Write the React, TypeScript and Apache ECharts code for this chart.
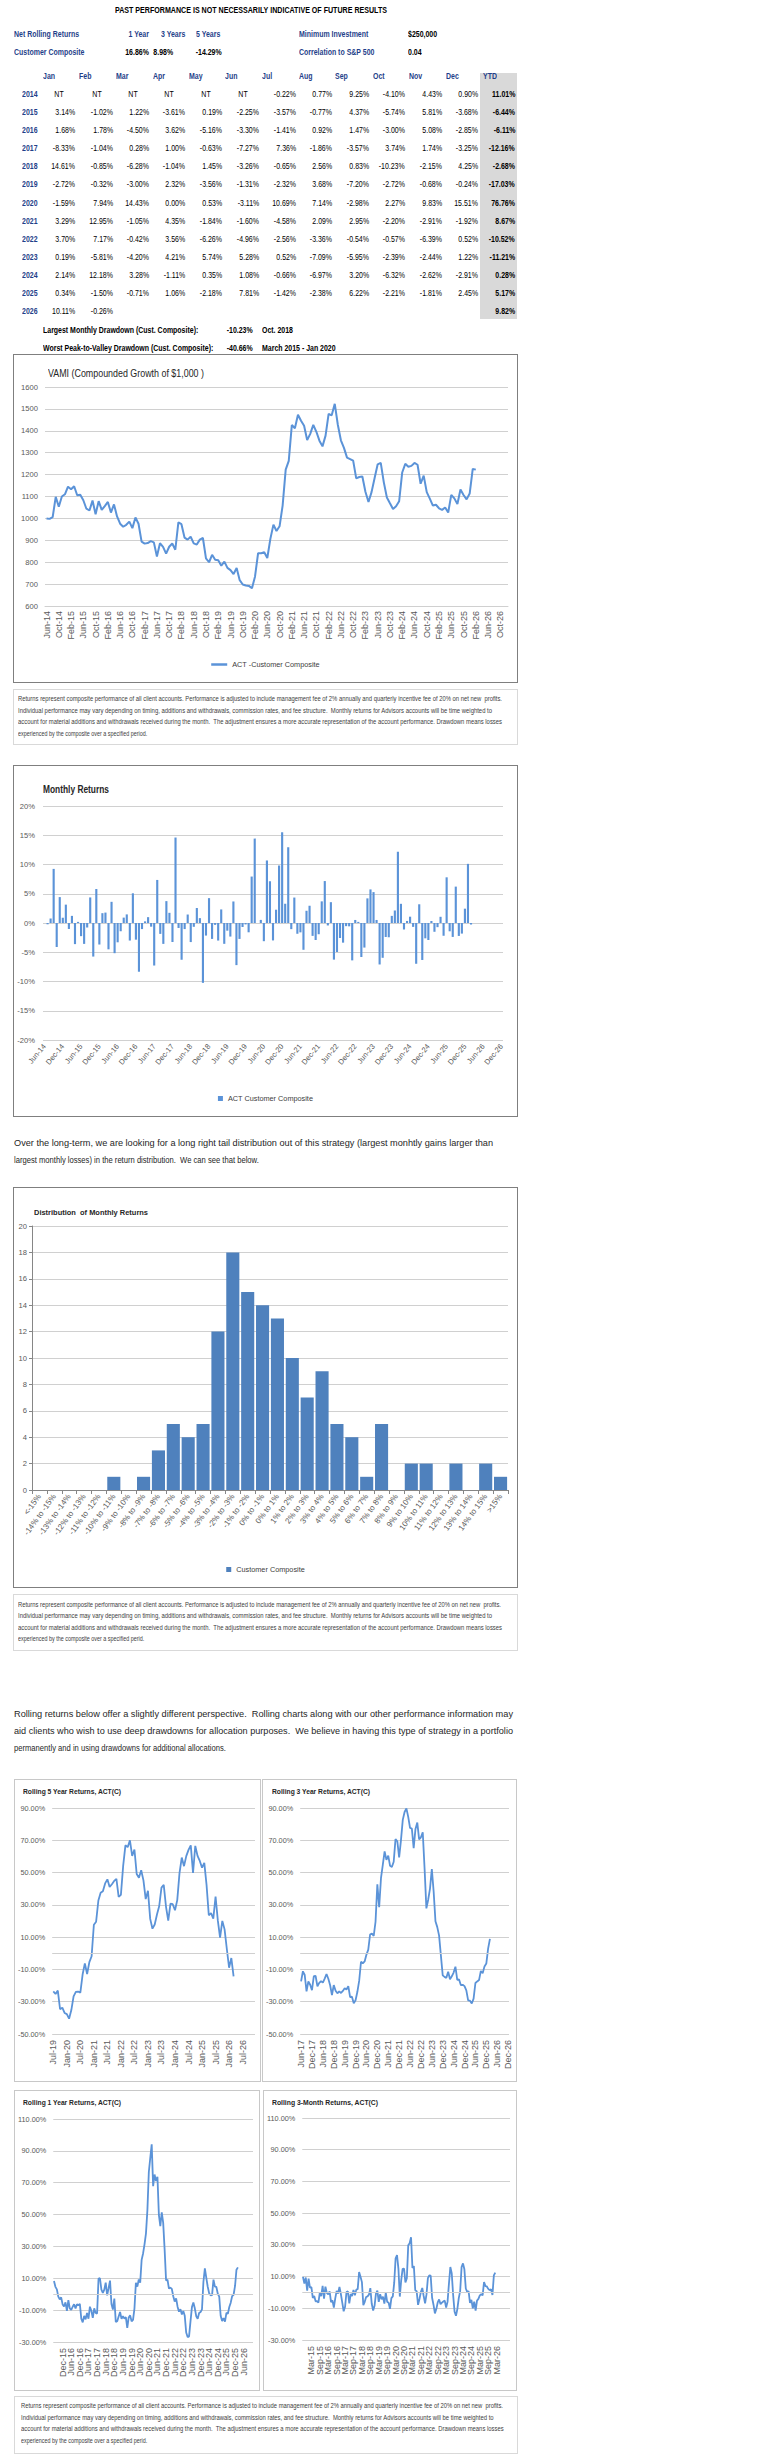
import React, { useEffect, useLayoutEffect, useRef } from "react";
import * as echarts from "echarts";

// ---------------- DATA ----------------
const MONTHS = ["Jan", "Feb", "Mar", "Apr", "May", "Jun", "Jul", "Aug", "Sep", "Oct", "Nov", "Dec"];
const YEARS = [2014, 2015, 2016, 2017, 2018, 2019, 2020, 2021, 2022, 2023, 2024, 2025, 2026];

const R2014: any[] = ["NT", "NT", "NT", "NT", "NT", "NT", -0.22, 0.77, 9.25, -4.1, 4.43, 0.9];
const R2015: any[] = [3.14, -1.02, 1.22, -3.61, 0.19, -2.25, -3.57, -0.77, 4.37, -5.74, 5.81, -3.68];
const R2016: any[] = [1.68, 1.78, -4.5, 3.62, -5.16, -3.3, -1.41, 0.92, 1.47, -3.0, 5.08, -2.85];
const R2017: any[] = [-8.33, -1.04, 0.28, 1.0, -0.63, -7.27, 7.36, -1.86, -3.57, 3.74, 1.74, -3.25];
const R2018: any[] = [14.61, -0.85, -6.28, -1.04, 1.45, -3.26, -0.65, 2.56, 0.83, -10.23, -2.15, 4.25];
const R2019: any[] = [-2.72, -0.32, -3.0, 2.32, -3.56, -1.31, -2.32, 3.68, -7.2, -2.72, -0.68, -0.24];
const R2020: any[] = [-1.59, 7.94, 14.43, 0.0, 0.53, -3.11, 10.69, 7.14, -2.98, 2.27, 9.83, 15.51];
const R2021: any[] = [3.29, 12.95, -1.05, 4.35, -1.84, -1.6, -4.58, 2.09, 2.95, -2.2, -2.91, -1.92];
const R2022: any[] = [3.7, 7.17, -0.42, 3.56, -6.26, -4.96, -2.56, -3.36, -0.54, -0.57, -6.39, 0.52];
const R2023: any[] = [0.19, -5.81, -4.2, 4.21, 5.74, 5.28, 0.52, -7.09, -5.95, -2.39, -2.44, 1.22];
const R2024: any[] = [2.14, 12.18, 3.28, -1.11, 0.35, 1.08, -0.66, -6.97, 3.2, -6.32, -2.62, -2.91];
const R2025: any[] = [0.34, -1.5, -0.71, 1.06, -2.18, 7.81, -1.42, -2.38, 6.22, -2.21, -1.81, 2.45];
const R2026: any[] = [10.11, -0.26, null, null, null, null, null, null, null, null, null, null];
const YTD = [11.01, -6.44, -6.11, -12.16, -2.68, -17.03, 76.76, 8.67, -10.52, -11.21, 0.28, 5.17, 9.82];

const HIST_BINS = [
  "<-15%", "-14% to -15%", "-13% to -14%", "-12% to -13%", "-11% to -12%", "-10% to -11%",
  "-9% to -10%", "-8% to -9%", "-7% to -8%", "-6% to -7%", "-5% to -6%", "-4% to -5%",
  "-3% to -4%", "-2% to -3%", "-1% to -2%", "0% to -1%", "0% to 1%", "1% to 2%", "2% to 3%",
  "3% to 4%", "4% to 5%", "5% to 6%", "6% to 7%", "7% to 8%", "8% to 9%", "9% to 10%",
  "10% to 11%", "11% to 12%", "12% to 13%", "13% to 14%", "14% to 15%", ">15%",
];
const HIST_COUNTS = [0, 0, 0, 0, 0, 1, 0, 1, 3, 5, 4, 5, 12, 18, 15, 14, 13, 10, 7, 9, 5, 4, 1, 5, 0, 2, 2, 0, 2, 0, 2, 1];

const ROWS = [R2014, R2015, R2016, R2017, R2018, R2019, R2020, R2021, R2022, R2023, R2024, R2025, R2026];
// monthly returns Jul-14 .. Feb-26 in order
const RETURNS: number[] = ROWS.flat().filter((v) => typeof v === "number") as number[];

// VAMI: growth of $1,000 compounded from the monthly returns above (starts Jun-14)
const VAMI: number[] = RETURNS.reduce((acc: number[], r) => { acc.push(acc[acc.length - 1] * (1 + r / 100)); return acc; }, [1000]);

// Rolling n-month compounded return (in %) ending at each month
function rolling(n: number): number[] {
  const out: number[] = [];
  for (let e = n - 1; e < RETURNS.length; e++) {
    let p = 1;
    for (let i = e - n + 1; i <= e; i++) p *= 1 + RETURNS[i] / 100;
    out.push(+((p - 1) * 100).toFixed(2));
  }
  return out;
}

function monthLabels(y0: number, m0: number, n: number): string[] {
  const out: string[] = [];
  for (let i = 0; i < n; i++) {
    const t = m0 + i;
    const y = y0 + Math.floor(t / 12);
    out.push(MONTHS[t % 12] + "-" + String(y % 100).padStart(2, "0"));
  }
  return out;
}

const MONTH_CATS = monthLabels(2014, 5, 151); // Jun-14 .. Dec-26
const ROLL5_CATS = monthLabels(2019, 6, 90); // Jul-19 .. Dec-26
const ROLL3_CATS = monthLabels(2017, 5, 115); // Jun-17 .. Dec-26
const ROLL1_CATS = monthLabels(2015, 5, 139); // Jun-15 .. Dec-26
const ROLL3M_CATS = monthLabels(2014, 8, 148); // Sep-14 .. Dec-26

// ---------------- STYLE ----------------
const FONT = "'Liberation Sans', Arial, sans-serif";
const SX = 0.82; // horizontal squeeze of the reference's text
const NAVY = "#1F3F8A";
const BLUE = "#5B93D8";
const GRID_LINE = "#d0d0d0";
const axisTxt = { fontFamily: FONT, fontSize: 7.3, color: "#595959" };
const legendTxt = { fontFamily: FONT, fontSize: 7.3, color: "#404040" };

const DISC = [
  "Returns represent composite performance of all client accounts. Performance is adjusted to include management fee of 2% annually and quarterly incentive fee of 20% on net new  profits.",
  "Individual performance may vary depending on timing, additions and withdrawals, commission rates, and fee structure.  Monthly returns for Advisors accounts will be time weighted to",
  "account for material additions and withdrawals received during the month.  The adjustment ensures a more accurate representation of the account performance. Drawdown means losses",
];

// ---------------- COMPONENTS ----------------
function EChart({ option, w, h }: { option: any; w: number; h: number }) {
  const ref = useRef<HTMLDivElement>(null);
  useEffect(() => {
    const c = echarts.init(ref.current as HTMLDivElement, null, { renderer: "svg", width: w, height: h });
    c.setOption(option);
    return () => c.dispose();
  }, []);
  return <div ref={ref} style={{ width: w, height: h }} />;
}

function Box({ left, top, w, h, border, option }: any) {
  return (
    <div style={{ position: "absolute", left, top, width: w, height: h, border: `1px solid ${border}`, boxSizing: "border-box", background: "#fff" }}>
      <EChart option={option} w={w - 2} h={h - 2} />
    </div>
  );
}

function Txt({ x, y, children, size = 8.5, bold = false, color = "#000", align = "left" }: any) {
  const lh = Math.round(size * 1.25);
  const style: any = {
    position: "absolute", top: y - lh / 2, fontSize: size, lineHeight: lh + "px", fontWeight: bold ? 700 : 400,
    color, whiteSpace: "pre", fontFamily: FONT,
  };
  if (align === "left") { style.left = x; style.transform = `scaleX(${SX})`; style.transformOrigin = "0 50%"; }
  else if (align === "right") { style.right = 768 - x; style.transform = `scaleX(${SX})`; style.transformOrigin = "100% 50%"; }
  else { style.left = x; style.transform = `translateX(-50%) scaleX(${SX})`; style.transformOrigin = "50% 50%"; }
  return <div style={style}>{children}</div>;
}

function FitLine({ x, y, w, size, text, color = "#262626", bold = false }: any) {
  const ref = useRef<HTMLSpanElement>(null);
  useLayoutEffect(() => {
    const el = ref.current;
    if (!el) return;
    const actual = el.getBoundingClientRect().width;
    const spaces = (text.match(/ /g) || []).length;
    const diff = w - actual;
    if (diff >= 0 && spaces > 0 && diff / spaces < size * 0.5) el.style.wordSpacing = diff / spaces + "px";
    else el.style.transform = `scaleX(${w / actual})`;
  }, []);
  const lh = Math.round(size * 1.25);
  return (
    <span ref={ref} style={{ position: "absolute", left: x, top: y - lh / 2, fontSize: size, lineHeight: lh + "px", whiteSpace: "pre", transformOrigin: "0 0", fontFamily: FONT, color, fontWeight: bold ? 700 : 400 }}>
      {text}
    </span>
  );
}

function Disclaimer({ left, top, w, h, tx, ys, ws, last }: any) {
  return (
    <>
      <div style={{ position: "absolute", left, top, width: w, height: h, border: "1px solid #d9d9d9", boxSizing: "border-box" }} />
      {DISC.map((t, i) => <FitLine key={i} x={tx} y={ys[i]} w={ws[i]} size={6.6} text={t} color="#404040" />)}
      <Txt x={tx} y={ys[3]} size={6.6} color="#404040">{last}</Txt>
    </>
  );
}

// ---------------- OPTIONS ----------------
const vamiOption = {
  animation: false,
  grid: { left: 31, right: 9, top: 32, bottom: 76 },
  legend: { top: 306, left: "center", padding: 0, icon: "rect", itemWidth: 16, itemHeight: 2.5, textStyle: legendTxt, data: ["ACT -Customer Composite"] },
  xAxis: {
    type: "category", data: MONTH_CATS, boundaryGap: true,
    axisLine: { show: true, lineStyle: { color: GRID_LINE } }, axisTick: { show: false },
    axisLabel: { fontFamily: FONT, fontSize: 9, color: "#595959", interval: 3, rotate: 90, margin: 5 },
  },
  yAxis: {
    type: "value", min: 600, max: 1600, interval: 100,
    axisLine: { show: false }, axisTick: { show: false },
    splitLine: { lineStyle: { color: GRID_LINE } }, axisLabel: { ...axisTxt, fontSize: 7.6, margin: 7, formatter: (v: number) => String(v) },
  },
  series: [{ type: "line", name: "ACT -Customer Composite", data: VAMI.map((v) => +v.toFixed(2)), symbol: "none", lineStyle: { color: BLUE, width: 2 }, itemStyle: { color: BLUE } }],
};

const monthlyOption = {
  animation: false,
  grid: { left: 29, right: 14, top: 40, bottom: 76 },
  legend: { top: 329, left: "center", padding: 0, icon: "rect", itemWidth: 5, itemHeight: 5, textStyle: legendTxt, data: ["ACT Customer Composite"] },
  xAxis: {
    type: "category", data: MONTH_CATS, boundaryGap: true,
    axisLine: { show: false }, axisTick: { show: false },
    axisLabel: { fontFamily: FONT, fontSize: 7.5, color: "#595959", interval: 5, rotate: 50, margin: 5 },
  },
  yAxis: {
    type: "value", min: -20, max: 20, interval: 5,
    axisLine: { show: false }, axisTick: { show: false },
    splitLine: { lineStyle: { color: GRID_LINE } }, axisLabel: { ...axisTxt, fontSize: 7.6, margin: 8, formatter: "{value}%" },
  },
  series: [{ type: "bar", name: "ACT Customer Composite", data: [null, ...RETURNS], barCategoryGap: "30%", itemStyle: { color: BLUE } }],
};

const histOption = {
  animation: false,
  grid: { left: 18, right: 9, top: 38, bottom: 97 },
  legend: { top: 378, left: "center", padding: 0, icon: "rect", itemWidth: 5, itemHeight: 5, textStyle: legendTxt, data: ["Customer Composite"] },
  xAxis: {
    type: "category", data: HIST_BINS, boundaryGap: true,
    axisLine: { show: true, lineStyle: { color: "#868686" } }, axisTick: { show: true, length: 4, lineStyle: { color: "#868686" } },
    axisLabel: { fontFamily: FONT, fontSize: 8, color: "#595959", interval: 0, rotate: 54, margin: 5 },
  },
  yAxis: {
    type: "value", min: 0, max: 20, interval: 2,
    axisLine: { show: true, lineStyle: { color: "#868686" } }, axisTick: { show: true, length: 3, lineStyle: { color: "#868686" } },
    splitLine: { lineStyle: { color: GRID_LINE } }, axisLabel: { ...axisTxt, fontSize: 7.6, margin: 5 },
  },
  series: [{ type: "bar", name: "Customer Composite", data: HIST_COUNTS, barCategoryGap: "12%", itemStyle: { color: "#4F81BD" } }],
};

function rollingOption(cats: string[], data: number[], min: number, max: number, grid: any) {
  return {
    animation: false,
    grid,
    xAxis: {
      type: "category", data: cats, boundaryGap: true,
      axisLine: { show: false }, axisTick: { show: false },
      axisLabel: { fontFamily: FONT, fontSize: 9, color: "#595959", interval: 5, rotate: 90, margin: 6 },
    },
    yAxis: {
      type: "value", min, max, interval: 20,
      axisLine: { show: false }, axisTick: { show: false },
      splitLine: { lineStyle: { color: GRID_LINE } },
      axisLabel: { ...axisTxt, margin: 7, formatter: (v: number) => v.toFixed(2) + "%" },
    },
    series: [{
      type: "line", data, symbol: "none", lineStyle: { color: BLUE, width: 1.8 }, itemStyle: { color: BLUE },
      markLine: { silent: true, symbol: ["none", "none"], label: { show: false }, lineStyle: { color: GRID_LINE, type: "solid", width: 1 }, data: [{ yAxis: 0 }] },
    }],
  };
}

const roll5Option = rollingOption(ROLL5_CATS, rolling(60), -50, 90, { left: 36, right: 5, top: 28, bottom: 47 });
const roll3Option = rollingOption(ROLL3_CATS, rolling(36), -50, 90, { left: 36, right: 7, top: 28, bottom: 47 });
const roll1Option = rollingOption(ROLL1_CATS, rolling(12), -30, 110, { left: 36, right: 6, top: 28, bottom: 48 });
const roll3mOption = rollingOption(ROLL3M_CATS, rolling(3), -30, 110, { left: 37, right: 6, top: 27, bottom: 50 });

// ---------------- TABLE LAYOUT ----------------
const COL_RIGHT = [75, 113, 149, 185, 222, 259, 296, 332, 369, 405, 442, 478];
const HEAD_LEFT = [43, 79, 116, 153, 189, 225, 262, 299, 335, 373, 409, 446];
const ROW_Y0 = 94.3;
const ROW_DY = 18.12;
const pct = (v: number) => v.toFixed(2) + "%";

export default function App() {
  return (
    <div style={{ position: "absolute", left: 0, top: 0, width: 768, height: 2461, background: "#fff", overflow: "hidden", fontFamily: FONT }}>
      <FitLine x={115} y={10} w={272} size={8.3} bold color="#000" text="PAST PERFORMANCE IS NOT NECESSARILY INDICATIVE OF FUTURE RESULTS" />

      <Txt x={14} y={34.3} bold color={NAVY}>Net Rolling Returns</Txt>
      <Txt x={149} y={34.3} bold color={NAVY} align="right">1 Year</Txt>
      <Txt x={161} y={34.3} bold color={NAVY}>3 Years</Txt>
      <Txt x={196} y={34.3} bold color={NAVY}>5 Years</Txt>
      <Txt x={299} y={34.3} bold color={NAVY}>Minimum Investment</Txt>
      <Txt x={408} y={34.3} bold>$250,000</Txt>

      <Txt x={14} y={52.7} bold color={NAVY}>Customer Composite</Txt>
      <Txt x={149} y={52.7} bold align="right">16.86%</Txt>
      <Txt x={173} y={52.7} bold align="right">8.98%</Txt>
      <Txt x={222} y={52.7} bold align="right">-14.29%</Txt>
      <Txt x={299} y={52.7} bold color={NAVY}>Correlation to S&amp;P 500</Txt>
      <Txt x={408} y={52.7} bold>0.04</Txt>

      <div style={{ position: "absolute", left: 480, top: 73, width: 37, height: 246, background: "#d9d9d9" }} />
      {MONTHS.map((m, j) => <Txt key={m} x={HEAD_LEFT[j]} y={76} bold color={NAVY}>{m}</Txt>)}
      <Txt x={483} y={76} bold color={NAVY}>YTD</Txt>

      {YEARS.map((yr, i) => {
        const y = ROW_Y0 + i * ROW_DY;
        return (
          <React.Fragment key={yr}>
            <Txt x={22} y={y} bold color={NAVY}>{String(yr)}</Txt>
            {ROWS[i].map((v: any, j: number) =>
              v === null ? null : typeof v === "string" ? (
                <Txt key={j} x={COL_RIGHT[j] - 16} y={y} align="center">{v}</Txt>
              ) : (
                <Txt key={j} x={COL_RIGHT[j]} y={y} align="right">{pct(v)}</Txt>
              )
            )}
            <Txt x={515} y={y} bold align="right">{pct(YTD[i])}</Txt>
          </React.Fragment>
        );
      })}

      <Txt x={43} y={330} bold>Largest Monthly Drawdown (Cust. Composite):</Txt>
      <Txt x={253} y={330} bold align="right">-10.23%</Txt>
      <Txt x={262} y={330} bold>Oct. 2018</Txt>
      <Txt x={43} y={348} bold>Worst Peak-to-Valley Drawdown (Cust. Composite):</Txt>
      <Txt x={253} y={348} bold align="right">-40.66%</Txt>
      <Txt x={262} y={348} bold>March 2015 - Jan 2020</Txt>

      <Box left={13} top={354} w={505} h={329} border="#7f7f7f" option={vamiOption} />
      <FitLine x={48} y={373} w={156} size={10.5} color="#262626" text="VAMI (Compounded Growth of $1,000 )" />

      <Disclaimer left={13} top={689} w={505} h={56} tx={18} ys={[699.3, 710.7, 722, 733.7]} ws={[484, 474, 484]} last="experienced by the composite over a specified period." />

      <Box left={13} top={765} w={505} h={352} border="#7f7f7f" option={monthlyOption} />
      <FitLine x={43} y={789} w={66} size={10.5} bold color="#262626" text="Monthly Returns" />

      <FitLine x={14} y={1143.3} w={479} size={9.3} text="Over the long-term, we are looking for a long right tail distribution out of this strategy (largest monhtly gains larger than" />
      <Txt x={14} y={1160} size={9.3} color="#262626">largest monthly losses) in the return distribution.  We can see that below.</Txt>

      <Box left={13} top={1187} w={505} h={401} border="#7f7f7f" option={histOption} />
      <FitLine x={34} y={1213} w={114} size={8} bold color="#262626" text="Distribution  of Monthly Returns" />

      <Disclaimer left={13} top={1594} w={505} h={57} tx={18} ys={[1605, 1616.3, 1627.7, 1639.3]} ws={[483, 474, 484]} last="experienced by the composite over a specified perid." />

      <FitLine x={14} y={1714} w={499} size={9.3} text="Rolling returns below offer a slightly different perspective.  Rolling charts along with our other performance information may" />
      <FitLine x={14} y={1731} w={499} size={9.3} text="aid clients who wish to use deep drawdowns for allocation purposes.  We believe in having this type of strategy in a portfolio" />
      <Txt x={14} y={1748} size={9.3} color="#262626">permanently and in using drawdowns for additional allocations.</Txt>

      <Box left={14} top={1779} w={247} h={303} border="#c8c8c8" option={roll5Option} />
      <Box left={262} top={1779} w={255} h={303} border="#c8c8c8" option={roll3Option} />
      <Box left={14} top={2090} w={246} h={301} border="#c8c8c8" option={roll1Option} />
      <Box left={263} top={2090} w={254} h={301} border="#c8c8c8" option={roll3mOption} />
      <FitLine x={23} y={1792} w={98} size={8} bold color="#262626" text="Rolling 5 Year Returns, ACT(C)" />
      <FitLine x={272} y={1792} w={98} size={8} bold color="#262626" text="Rolling 3 Year Returns, ACT(C)" />
      <FitLine x={23} y={2103} w={98} size={8} bold color="#262626" text="Rolling 1 Year Returns, ACT(C)" />
      <FitLine x={272} y={2103} w={106} size={8} bold color="#262626" text="Rolling 3-Month Returns, ACT(C)" />

      <Disclaimer left={14} top={2396} w={504} h={58} tx={20.7} ys={[2406, 2417.7, 2429, 2440.7]} ws={[482, 472.6, 482.6]} last="experienced by the composite over a specified perid." />
    </div>
  );
}
